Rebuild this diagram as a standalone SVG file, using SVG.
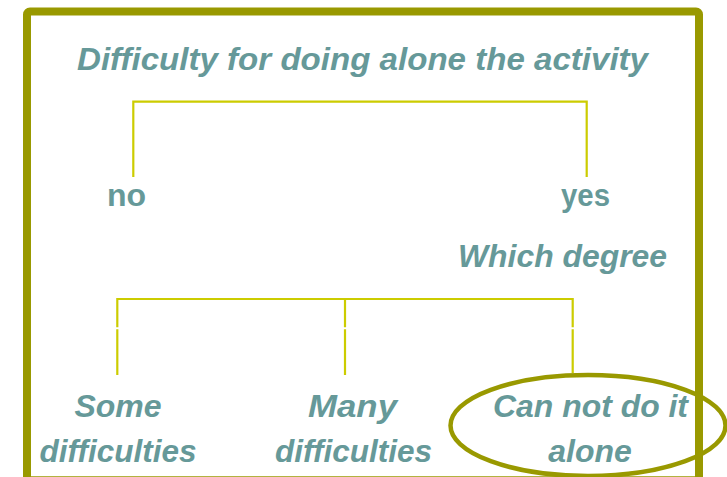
<svg xmlns="http://www.w3.org/2000/svg" width="727" height="477" viewBox="0 0 727 477">
  <style>
    .t { font-family: "Liberation Sans", Arial, sans-serif; font-weight: bold; font-size: 32px; fill: #669999; text-anchor: middle; }
    .it { font-style: italic; }
    .c { fill: none; stroke: #CCCC00; stroke-width: 2.2; }
  </style>
  <rect width="727" height="477" fill="#ffffff"/>
  <rect id="frame" x="27" y="11.5" width="672" height="468.8" rx="3" fill="none" stroke="#999900" stroke-width="8"/>

  <g id="connectors">
    <path class="c" d="M133.3,177 V101.7 H586.7 V177"/>
    <path class="c" d="M117.3,327.3 V299 H572.7 V327.3 M345,299 V327.3"/>
    <path class="c" d="M117.3,329.3 V375 M345,329.3 V375 M572.7,329.3 V373"/>
  </g>

  <g id="title">
    <text class="t it" x="362.5" y="70" textLength="571" lengthAdjust="spacingAndGlyphs">Difficulty for doing alone the activity</text>
  </g>
  <g id="no">
    <text class="t" x="126.5" y="206">no</text>
  </g>
  <g id="yes">
    <text class="t" x="585.5" y="206" textLength="49" lengthAdjust="spacingAndGlyphs">yes</text>
  </g>
  <g id="which-degree">
    <text class="t it" x="562.5" y="267" textLength="209" lengthAdjust="spacingAndGlyphs">Which degree</text>
  </g>
  <g id="some">
    <text class="t it" x="118" y="417">Some</text>
    <text class="t it" x="118" y="462" textLength="157" lengthAdjust="spacingAndGlyphs">difficulties</text>
  </g>
  <g id="many">
    <text class="t it" x="352.5" y="417" textLength="89" lengthAdjust="spacingAndGlyphs">Many</text>
    <text class="t it" x="353.5" y="462" textLength="157" lengthAdjust="spacingAndGlyphs">difficulties</text>
  </g>
  <g id="cannot">
    <text class="t it" x="590.5" y="417" textLength="195" lengthAdjust="spacingAndGlyphs">Can not do it</text>
    <text class="t it" x="590" y="462">alone</text>
    <ellipse cx="588" cy="425.5" rx="137.5" ry="50.5" fill="none" stroke="#999900" stroke-width="4.5"/>
  </g>
</svg>
